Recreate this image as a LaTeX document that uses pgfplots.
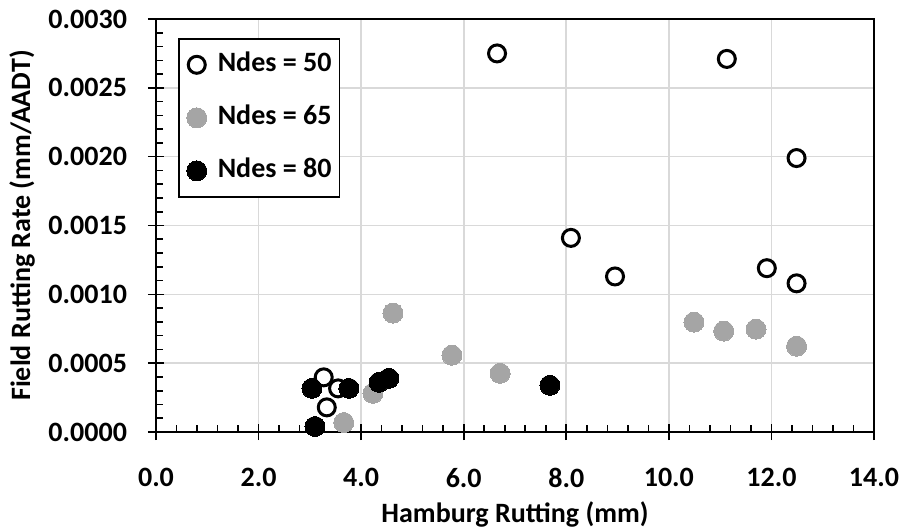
\documentclass[border=0pt]{standalone}
\usepackage{fontspec}
\setmainfont{Carlito}
\usepackage{pgfplots}
\pgfplotsset{compat=1.18}
\definecolor{gridgray}{HTML}{D9D9D9}
\definecolor{ptgray}{HTML}{A5A5A5}
\begin{document}
\begin{tikzpicture}
\begin{axis}[
  name=ax,
  scale only axis,
  width=359pt, height=206.5pt,
  xmin=0, xmax=14, ymin=0, ymax=0.003,
  xtick={0,2,...,14},
  ytick={0,0.0005,0.001,0.0015,0.002,0.0025,0.003},
  minor x tick num=4, minor y tick num=4,
  xtick pos=bottom, ytick pos=left,
  tick align=inside,
  major tick length=8pt, minor tick length=3.5pt,
  major x tick style={yshift=-4pt},
  major y tick style={xshift=-4pt},
  every tick/.style={black, line width=0.8pt},
  axis line style={black, line width=0.8pt},
  grid=major,
  major grid style={gridgray, line width=0.8pt},
  scaled y ticks=false,
  /pgf/number format/assume math mode=true,
  xticklabel style={yshift=-14.5pt, /pgf/number format/fixed, /pgf/number format/precision=1, /pgf/number format/fixed zerofill},
  yticklabel style={xshift=-11pt, /pgf/number format/fixed, /pgf/number format/precision=4, /pgf/number format/fixed zerofill},
  tick label style={font=\fontsize{14}{16}\selectfont\bfseries},
  label style={font=\fontsize{14}{16}\selectfont\bfseries},
  xlabel={Hamburg Rutting (mm)},
  ylabel={Field Rutting Rate (mm/AADT)},
  legend cell align=left,
  legend style={at={(axis description cs:0.0306,0.954)}, anchor=north west,
    draw=black, line width=0.8pt, inner xsep=4pt, inner ysep=6.5pt, row sep=13.5pt,
    font=\fontsize{14}{16}\selectfont\bfseries,
    nodes={text height=10pt, text depth=3pt, inner sep=0pt}},
  legend image code/.code={\path[draw=none] (0pt,0pt) -- (15pt,0pt); \draw[#1] plot coordinates {(4.5pt,0pt)};},
]
\addplot[only marks, mark=*, mark size=4.25pt, mark options={fill=white, draw=black, line width=1.5pt}] coordinates {
(6.65,0.00275) (11.13,0.00271) (12.49,0.00199) (8.09,0.00141) (8.95,0.00113)
(11.91,0.00119) (12.49,0.00108) (3.27,0.000397) (3.55,0.000317) (3.33,0.000179)
};
\addlegendentry{Ndes = 50\hspace{3.5pt}}
\addplot[only marks, mark=*, mark size=5pt, color=ptgray, mark options={fill=ptgray, draw=ptgray, line width=0pt}] coordinates {
(10.49,0.000798) (11.07,0.000733) (11.70,0.000747) (12.49,0.000623) (6.71,0.000426)
(5.77,0.000558) (4.62,0.000864) (4.23,0.000281) (3.66,0.000069)
};
\addlegendentry{Ndes = 65}
\addplot[only marks, mark=*, mark size=5pt, color=black, mark options={fill=black, draw=black, line width=0pt}] coordinates {
(7.68,0.000339) (3.04,0.000317) (3.76,0.000317) (3.10,0.000040) (4.35,0.000361) (4.54,0.000390)
};
\addlegendentry{Ndes = 80}
\end{axis}
\pgfresetboundingbox
\path[use as bounding box] ([shift={(-78pt,-49.5pt)}]ax.south west) rectangle ([shift={(15pt,9.5pt)}]ax.north east);
\end{tikzpicture}
\end{document}
